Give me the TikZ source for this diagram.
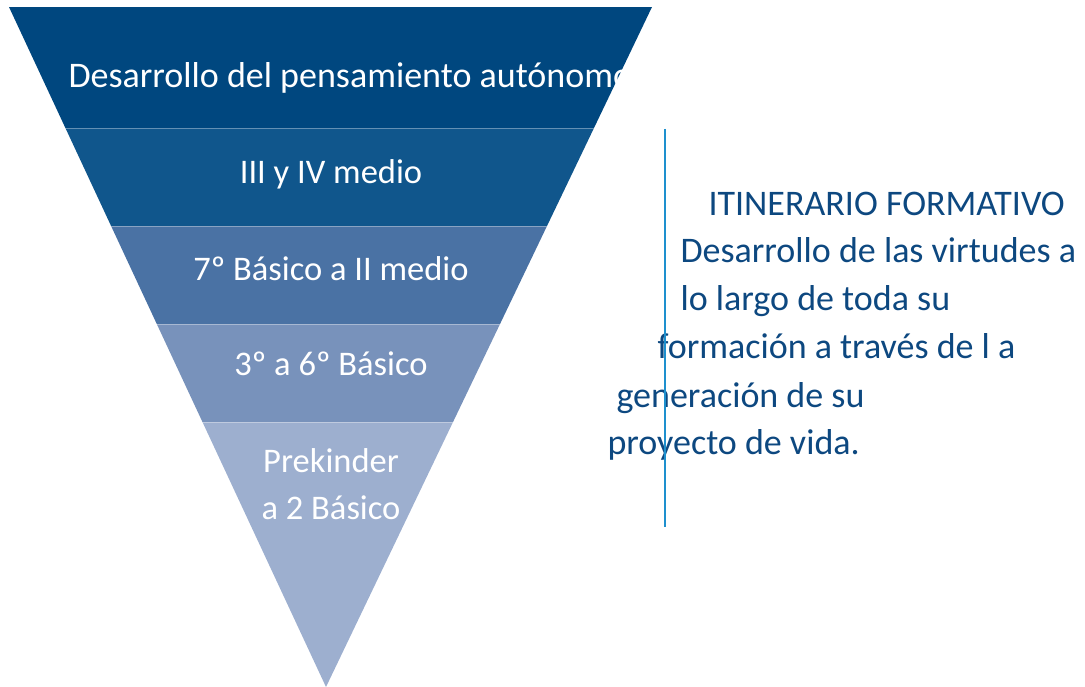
\documentclass[tikz,border=0pt]{standalone}
\usepackage{fontspec}
\setmainfont{Carlito}
\definecolor{bandA}{RGB}{0,71,127}
\definecolor{bandB}{RGB}{16,86,140}
\definecolor{bandC}{RGB}{74,114,164}
\definecolor{bandD}{RGB}{120,146,187}
\definecolor{bandE}{RGB}{157,175,207}
\definecolor{sidecol}{RGB}{13,72,128}
\definecolor{linecol}{RGB}{30,144,206}
\begin{document}
\begin{tikzpicture}[x=1pt,y=-1pt,
  bandtext/.style={text=white, font=\fontsize{34.5}{40}\selectfont, anchor=base},
  sidetext/.style={text=sidecol, font=\fontsize{36}{42}\selectfont, anchor=base west}]
  \useasboundingbox (0,0) rectangle (1085,687);
  % funnel, cut into bands
  \begin{scope}
    \clip (9,7) -- (652,7) -- (326,687) -- cycle;
    \foreach \top/\bot/\col in {7/128/bandA, 128/226/bandB, 226/324/bandC, 324/422/bandD, 422/687/bandE}
      \fill[\col] (0,\top) rectangle (700,\bot);
    \foreach \y in {128,226,324,422}
      \draw[white, opacity=0.35, line width=0.8pt] (0,\y) -- (700,\y);
    \node[bandtext, anchor=base west, font=\fontsize{36}{42}\selectfont] (autonomo) at (65,88) {Desarrollo del pensamiento autónomo};
  \end{scope}
  \node[bandtext] (media) at (331,184) {III y IV medio};
  \node[bandtext] (septimo) at (331,280) {7º Básico a II medio};
  \node[bandtext] (tercero) at (331,375) {3º a 6º Básico};
  \node[bandtext] (prekinder) at (331,472) {Prekinder};
  \node[bandtext] (segundo) at (331,519) {a 2 Básico};
  % itinerario text
  \foreach \x/\y/\txt [count=\i] in {705/216/ITINERARIO FORMATIVO, 677/263/Desarrollo de las virtudes a,
      677/311/lo largo de toda su, 654/358/formación a través de l a, 613/407/generación de su, 604/454/proyecto de vida.}
    \node[sidetext] (side\i) at (\x,\y) {\txt};
  \coordinate (ltop) at (664.5,129);
  \coordinate (lbot) at (664.5,527);
  \draw[linecol, line width=2pt] (ltop) -- (lbot);
\end{tikzpicture}
\end{document}
